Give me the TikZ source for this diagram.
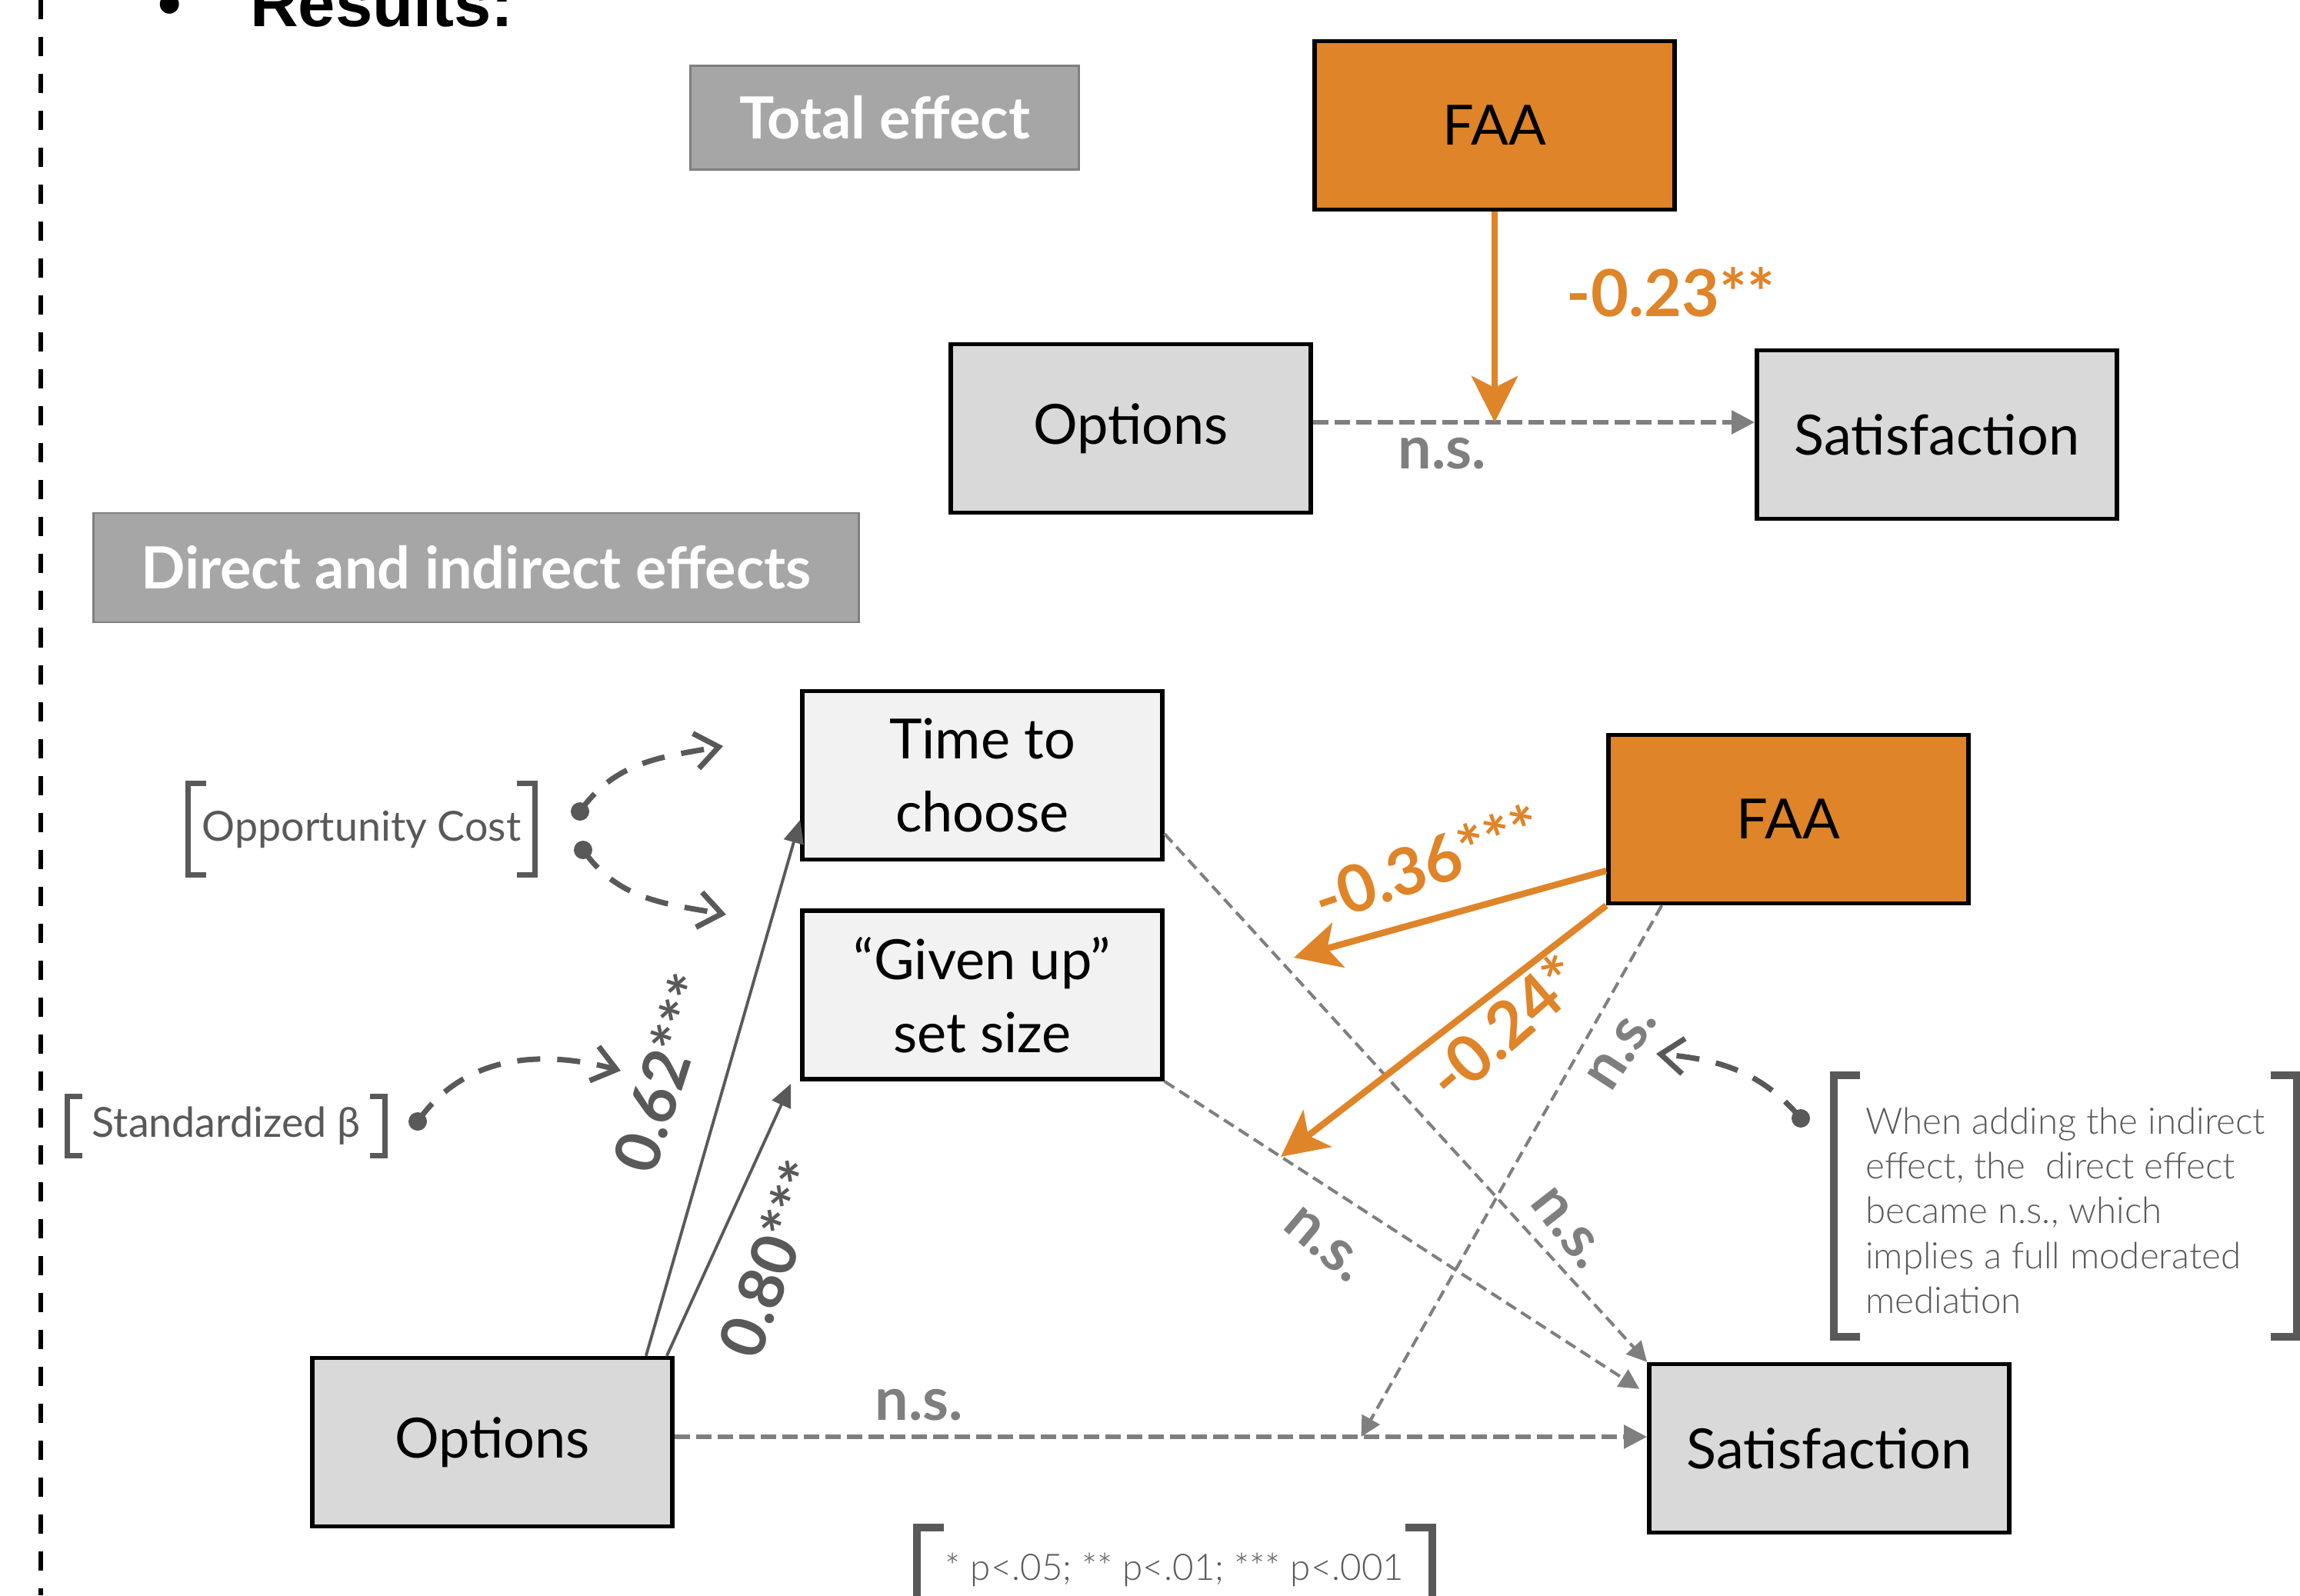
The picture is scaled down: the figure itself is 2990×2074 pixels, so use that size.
\documentclass[tikz,border=0pt]{standalone}
\usepackage{fontspec}
\setmainfont{Lato}
\newfontfamily\lightfont{Lato Light}
\newfontfamily\resfont{Liberation Sans}
\usepackage{xcolor}
\usetikzlibrary{arrows.meta, positioning, calc}

\definecolor{faaorange}{HTML}{DF8428}
\definecolor{boxgray}{HTML}{D9D9D9}
\definecolor{medgray}{HTML}{F2F2F2}
\definecolor{hdrgray}{HTML}{A6A6A6}
\definecolor{hdrline}{HTML}{7F7F7F}
\definecolor{nsgray}{HTML}{7F7F7F}
\definecolor{betagray}{HTML}{595959}

\begin{document}
\begin{tikzpicture}[
        x=0.01cm, y=0.01cm,
        box/.style={draw, line width=1.55pt, minimum width=4.68cm, minimum height=2.19cm, align=center, font=\fontsize{20.5}{27}\selectfont},
        optbox/.style={box, fill=boxgray},
        medbox/.style={box, fill=medgray},
        faabox/.style={box, fill=faaorange},
        hdr/.style={draw=hdrline, fill=hdrgray, line width=0.8pt, text=white, font=\bfseries\fontsize{21.5}{26}\selectfont},
        faa/.style={draw=faaorange, line width=2.4pt, -{Stealth[length=0.6cm, width=0.6cm, inset=0.15cm]}},
        beta/.style={draw=betagray, line width=1.1pt, -{Triangle[length=0.3cm, width=0.26cm]}},
        nsthick/.style={draw=nsgray, line width=1.6pt, dash pattern=on 0.2cm off 0.08cm, -{Triangle[length=0.3cm, width=0.3cm]}},
        nsthin/.style={draw=nsgray, line width=1.15pt, dash pattern=on 0.15cm off 0.08cm, -{Triangle[length=0.26cm, width=0.26cm]}},
        coef/.style={text=faaorange, font=\bfseries\fontsize{24}{28}\selectfont},
        betalbl/.style={text=betagray, font=\bfseries\fontsize{23}{28}\selectfont},
        nslbl/.style={text=nsgray, font=\bfseries\fontsize{22}{26}\selectfont},
        note/.style={text=betagray, font=\lightfont\fontsize{13.5}{16.6}\selectfont, inner sep=0pt},
        tag/.style={text=betagray, font=\fontsize{15.3}{18}\selectfont, inner sep=0pt},
        brk/.style={draw=betagray, line width=2pt},
        dot/.style={circle, fill=betagray, inner sep=0pt, minimum size=0.24cm},
        notearr/.style={draw=betagray, line width=2pt, dash pattern=on 0.3cm off 0.22cm, -{Straight Barb[length=0.3cm, width=0.46cm]}},
    ]
        \useasboundingbox (0,0) rectangle (2990,-2074);

        % slide heading and side rule
        \node[anchor=base west, inner sep=0pt, font=\resfont\bfseries\fontsize{24.7}{30}\selectfont] (res) at (205,-34) {•\hspace{0.89cm}Results:};
        \draw[line width=1.5pt, dash pattern=on 0.25cm off 0.23cm] (53,0) -- (53,-2074);

        % total effect
        \node[hdr, minimum width=5.05cm, minimum height=1.35cm] (tot) at (1150,-153) {Total effect};
        \node[faabox] (faaT) at (1943,-163) {FAA};
        \node[optbox] (optT) at (1470,-557) {Options};
        \node[optbox] (satT) at (2518,-565) {Satisfaction};

        \coordinate (tL) at ([yshift=0.08cm]optT.east);
        \coordinate (tR) at (tL -| satT.west);
        \coordinate (tX) at (faaT.south |- tL);
        \draw[nsthick] (tL) -- (tR);
        \draw[faa] (faaT.south) -- (tX);
        \node[nslbl] (nsT) at (1875,-590) {n.s.};
        \node[coef] (cT) at (2172,-380) {-0.23**};

        % direct and indirect effects
        \node[hdr, minimum width=9.94cm, minimum height=1.42cm] (dir) at (619,-738) {Direct and indirect effects};
        \node[medbox] (time) at (1277,-1008) {Time to\\choose};
        \node[medbox, below=0.61cm of time] (given) {“Given up”\\set size};
        \node[faabox] (faaB) at (2325,-1065) {FAA};
        \node[optbox] (optB) at (640,-1875) {Options};
        \node[optbox] (satB) at (2378,-1883) {Satisfaction};

        \draw[beta] ([xshift=-0.37cm]optB.north east) -- ([yshift=-0.58cm]time.west);
        \draw[beta] ([xshift=-0.1cm]optB.north east) -- ([shift={(-12,-3)}]given.south west);

        \coordinate (aS) at ([yshift=-0.76cm]time.east);
        \coordinate (bE) at ([shift={(-10,-35)}]satB.north west);
        \coordinate (dL) at ([yshift=0.07cm]optB.east);
        \coordinate (dR) at (dL -| satB.west);
        \coordinate (dX) at ($(dL)!0.706!(dR)$);
        \draw[nsthin] (aS) -- (satB.north west);
        \draw[nsthin] (given.south east) -- (bE);
        \draw[nsthick] (dL) -- (dR);
        \draw[nsthin] ([xshift=0.72cm]faaB.south west) -- (dX);

        \coordinate (m1) at (1682,-1245);
        \coordinate (m2) at ($(given.south east)!0.245!(bE)$);
        \draw[faa] ([yshift=-0.67cm]faaB.west) -- (m1);
        \draw[faa] (faaB.south west) -- (m2);

        \node[betalbl, rotate=72] (b62) at (862,-1395) {0.62***};
        \node[betalbl, rotate=70] (b80) at (1003,-1636) {0.80***};
        \node[coef, rotate=19] (c36) at (1855,-1122) {-0.36***};
        \node[coef, rotate=41] (c24) at (1955,-1335) {-0.24*};
        \node[nslbl] (nsD) at (1195,-1827) {n.s.};
        \node[nslbl, rotate=-52] (nsA) at (2038,-1597) {n.s.};
        \node[nslbl, rotate=-40] (nsB) at (1722,-1618) {n.s.};
        \node[nslbl, rotate=57] (nsC) at (2109,-1363) {n.s.};

        % side notes
        \node[tag, minimum width=4.50cm, minimum height=1.17cm] (oc) at (470,-1078) {Opportunity Cost};
        \node[tag, minimum width=4.12cm, minimum height=0.76cm] (sb) at (294,-1464) {Standardized β};
        \node[note, minimum width=6cm, minimum height=3.39cm, align=left] (fin) at (2685,-1568) {\rule{0pt}{0.46cm}When adding the indirect\\effect, the\ \ direct effect\\became n.s., which\\implies a full moderated\\mediation};
        \node[note, minimum width=6.69cm, minimum height=1.08cm] (sig) at (1527,-2041) {* p<.05; ** p<.01; *** p<.001};

        \foreach \n/\a/\w in {oc/24/2pt, sb/20/2pt, fin/34/2.8pt, sig/35/2.8pt} {
            \draw[brk, line width=\w] ([shift={(\a,0)}]\n.north west) -- (\n.north west) -- (\n.south west) -- ([shift={(\a,0)}]\n.south west);
            \draw[brk, line width=\w] ([shift={(-\a,0)}]\n.north east) -- (\n.north east) -- (\n.south east) -- ([shift={(-\a,0)}]\n.south east);
        }

        \node[dot] (ocd1) at (754,-1055) {};
        \node[dot] (ocd2) at (758,-1105) {};
        \node[dot] (sbd) at (543,-1458) {};
        \node[dot] (find) at (2341,-1454) {};
        \coordinate (oct1) at (940,-970);
        \coordinate (oct2) at (944,-1189);
        \coordinate (sbt) at (807,-1392);
        \coordinate (fint) at (2153,-1370);
        \draw[notearr] (ocd1.center) to[out=55, in=190] (oct1);
        \draw[notearr] (ocd2.center) to[out=-55, in=170] (oct2);
        \draw[notearr] (sbd.center) to[out=55, in=165] (sbt);
        \draw[notearr] (find.center) to[out=130, in=-5] (fint);
    \end{tikzpicture}
\end{document}
